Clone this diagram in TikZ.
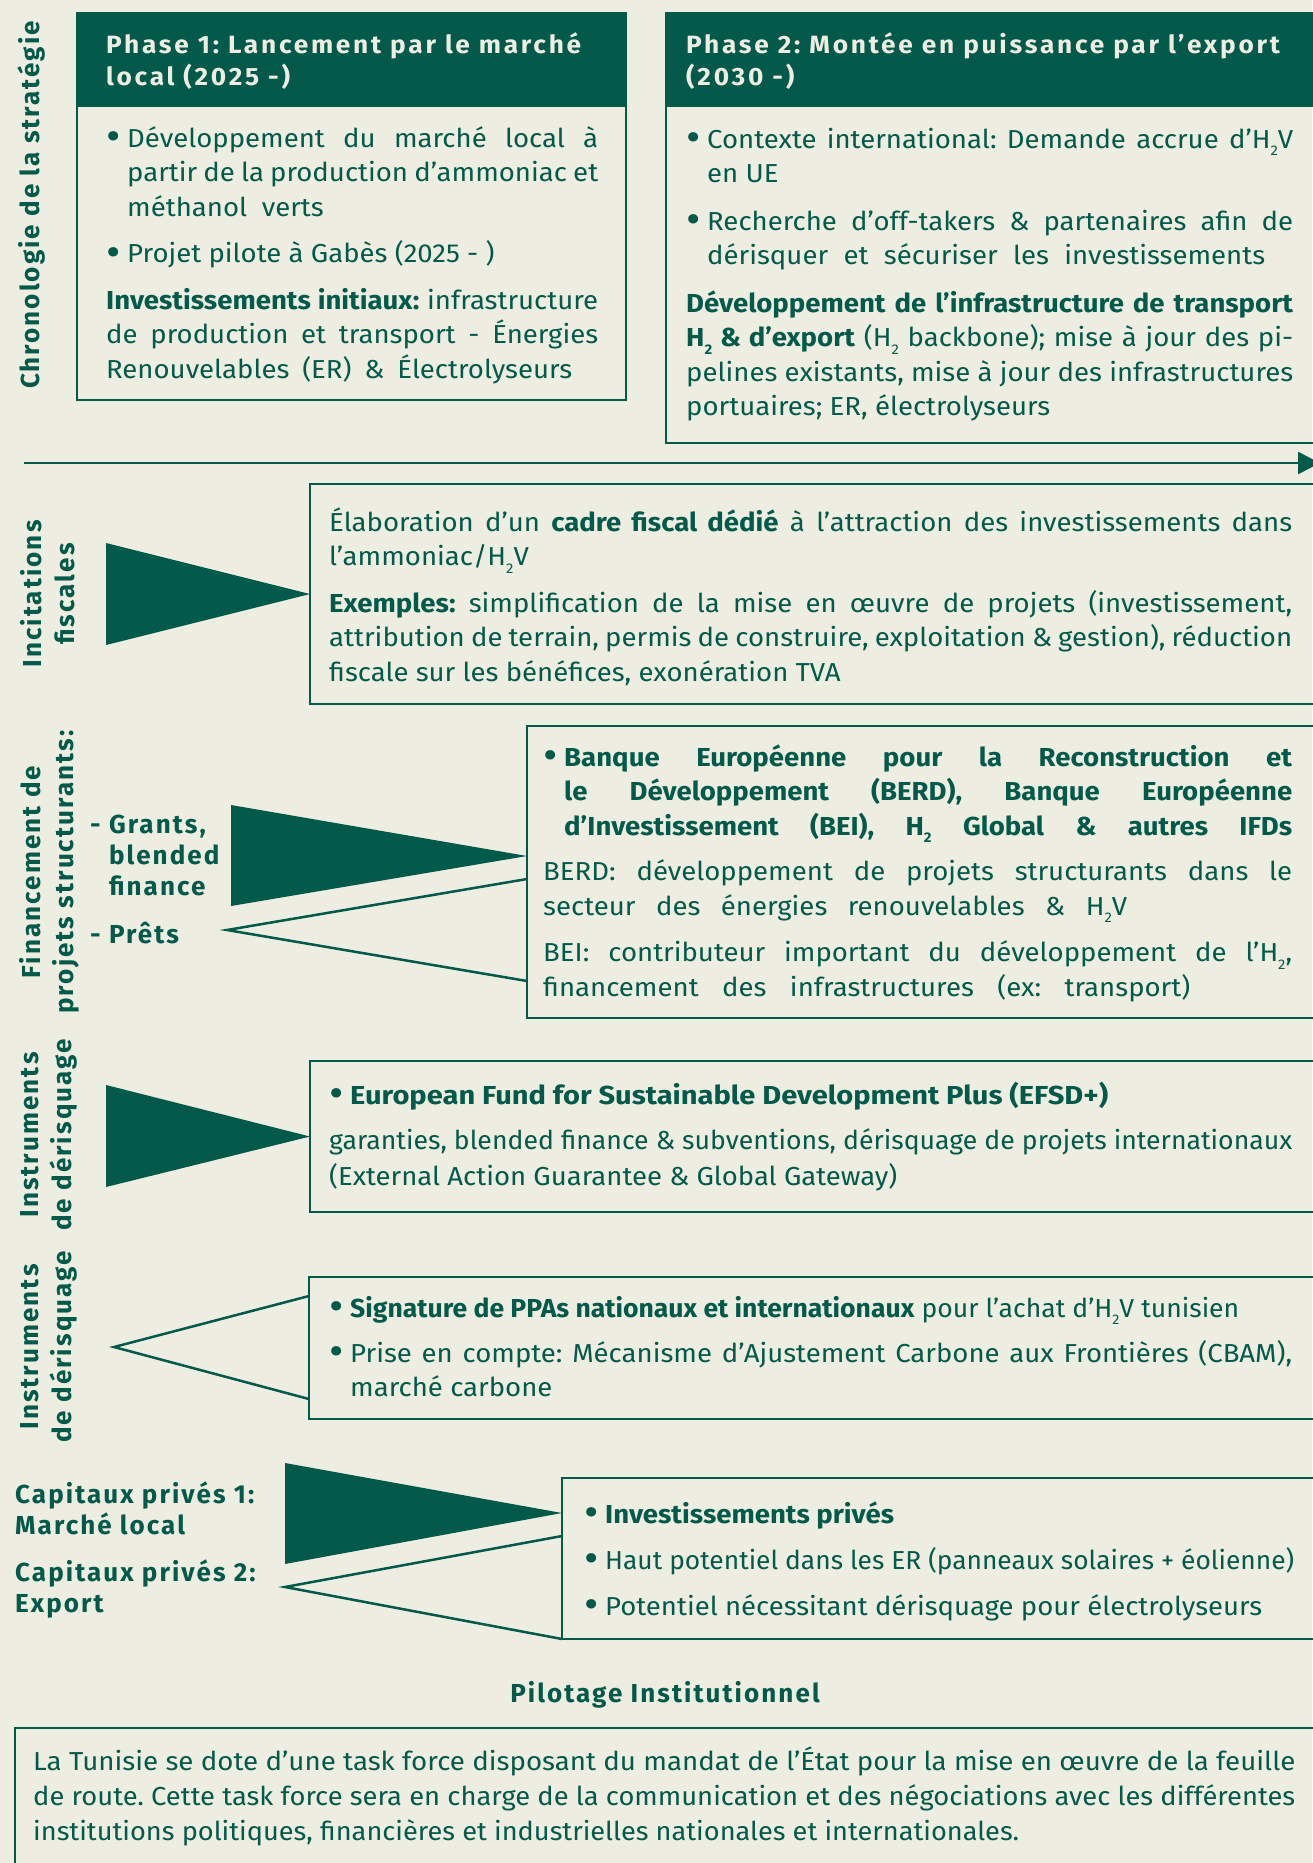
\documentclass[tikz,border=0pt]{standalone}
\usepackage{fontspec}
\usepackage{graphicx}
\setmainfont[FakeStretch=1.06]{Fira Sans}
\newfontfamily\labfont[LetterSpace=8]{Fira Sans}
\newfontfamily\hdfont[LetterSpace=11,FakeStretch=1.05]{Fira Sans}
\usetikzlibrary{arrows.meta}
\definecolor{bg}{HTML}{EDEDE1}
\definecolor{dg}{HTML}{03594A}
\newcommand\Hd{H\raisebox{-7.5pt}{\fontsize{14}{0}\selectfont 2}}
\newcommand\jl[2]{\makebox[#1][s]{#2}}
\newcommand\fw[2]{\resizebox{#1}{\height}{#2}}
\newcommand\bul{\makebox[21pt][l]{\raisebox{-3.5pt}{\scalebox{1.6}{•}}}}
\newcommand\tl[1]{\begin{tabular}[t]{@{}l@{}}#1\end{tabular}}
\tikzset{
 box/.style={draw=dg, line width=2.5pt, anchor=north west, inner sep=0pt, outer sep=0pt},
 hdbar/.style={fill=dg, anchor=north west, inner sep=0pt, outer sep=0pt, minimum height=94pt},
 txt/.style={anchor=base west, inner sep=0pt, text=dg, font=\fontsize{26}{34.5}\selectfont},
 lab/.style={text=dg, font=\labfont\bfseries\fontsize{26}{33}\selectfont, align=center, rotate=90, inner sep=0pt},
 blab/.style={anchor=base west, text=dg, font=\labfont\bfseries\fontsize{26}{31}\selectfont, inner sep=0pt},
 hd/.style={anchor=base west, text=bg, font=\hdfont\bfseries\fontsize{25}{32}\selectfont, inner sep=0pt},
 otri/.style={draw=dg, line width=2.5pt, line join=miter},
}
\begin{document}
\frenchspacing
\begin{tikzpicture}[x=1pt,y=-1pt]
\useasboundingbox (0,0) rectangle (1312,1863);
\fill[bg] (0,0) rectangle (1312,1863);

% ---------- Chronologie
\node[lab] (lch) at (32,205) {Chronologie de la stratégie};

% Phase 1
\node[box, minimum width=549pt, minimum height=387pt] (p1) at (77,13) {};
\node[hdbar, minimum width=549pt] (p1h) at (77,13) {};
\node[hd] (p1t) at (106,53) {\tl{Phase 1: Lancement par le marché\\local (2025 -)}};
\node[txt] (p1b) at (106,147) {\tl{\bul\jl{471pt}{Développement du marché local à}\\
\hspace*{21pt}\jl{471pt}{partir de la production d’ammoniac et}\\
\hspace*{21pt}méthanol\ \ verts\\[12pt]
\bul Projet pilote à Gabès (2025 - )\\[12pt]
\jl{492pt}{\textbf{Investissements initiaux:} infrastructure}\\
\jl{492pt}{de production et transport - Énergies}\\
\jl{466pt}{Renouvelables (ER) \& Électrolyseurs}}};

% Phase 2
\node[box, minimum width=660pt, minimum height=430pt] (p2) at (666,13) {};
\node[hdbar, minimum width=660pt] (p2h) at (666,13) {};
\node[hd] (p2t) at (686,53) {\tl{Phase 2: Montée en puissance par l’export\\(2030 -)}};
\node[txt] (p2b) at (686,148) {\tl{\bul\jl{586pt}{Contexte international: Demande accrue d’\Hd V}\\
\hspace*{21pt}en UE\\[13pt]
\bul\jl{586pt}{Recherche d’off-takers \& partenaires afin de}\\
\hspace*{21pt}\jl{558pt}{dérisquer et sécuriser les investissements}\\[13pt]
\jl{607pt}{\textbf{Développement de l’infrastructure de transport}}\\
\jl{607pt}{\textbf{\Hd\ \& d’export} (\Hd\ backbone); mise à jour des pi-}\\
\jl{607pt}{pelines existants, mise à jour des infrastructures}\\
portuaires; ER, électrolyseurs}};

% timeline arrow
\coordinate (a0) at (24,463);
\coordinate (a1) at (1320,463);
\draw[line width=2.5pt, dg, -{Triangle[length=22pt,width=22pt]}] (a0) -- (a1);

% ---------- Incitations fiscales
\node[lab] (l1) at (48,594) {Incitations\\fiscales};
\node[box, minimum width=1010pt, minimum height=220pt] (b1) at (310,484) {};
\node[txt] (b1t) at (329,531) {\tl{\jl{963pt}{Élaboration d’un \textbf{cadre fiscal dédié} à l’attraction des investissements dans}\\
l’ammoniac/\Hd V\\[12pt]
\jl{963pt}{\textbf{Exemples:} simplification de la mise en œuvre de projets (investissement,}\\
\jl{963pt}{attribution de terrain, permis de construire, exploitation \& gestion), réduction}\\
fiscale sur les bénéfices, exonération TVA}};
\coordinate (t1a) at (106,543);
\coordinate (t1b) at (106,645);
\fill[dg] (t1a) -- (b1.west) -- (t1b) -- cycle;

% ---------- Financement
\node[lab] (l2) at (49,872) {Financement de\\projets structurants:};
\node[blab] (g1) at (90,833) {\tl{- Grants,\\\hphantom{- }blended\\\hphantom{- }finance}};
\node[blab] (g2) at (90,943) {- Prêts};
\node[box, minimum width=793pt, minimum height=292pt] (b2) at (527,726) {};
\node[txt] (b2t) at (543,766) {\tl{\bul\jl{728pt}{\textbf{Banque Européenne pour la Reconstruction et}}\\
\hspace*{21pt}\jl{728pt}{\textbf{le Développement (BERD), Banque Européenne}}\\
\hspace*{21pt}\jl{728pt}{\textbf{d’Investissement (BEI), \Hd\ Global \& autres IFDs}}\\[11pt]
\jl{749pt}{BERD: développement de projets structurants dans le}\\
\jl{584pt}{secteur des énergies renouvelables \& \Hd V}\\[12pt]
\jl{749pt}{BEI: contributeur important du développement de l’\Hd,}\\
\jl{647pt}{financement des infrastructures (ex: transport)}}};
\coordinate (t2a) at (231,805);
\coordinate (t2b) at (231,906);
\coordinate (t2c) at (527,856);
\fill[dg] (t2a) -- (t2c) -- (t2b) -- cycle;
\coordinate (t2d) at (527,879);
\coordinate (t2e) at (227,930);
\coordinate (t2f) at (527,981);
\draw[otri] (t2d) -- (t2e) -- (t2f);

% ---------- Instruments 1
\node[lab] (l3) at (49,1135) {Instruments\\de dérisquage};
\node[box, minimum width=1010pt, minimum height=151pt] (b3) at (310,1061) {};
\node[txt] (b3t) at (329,1104) {\tl{\bul\fw{758pt}{\textbf{European Fund for Sustainable Development Plus (EFSD+)}}\\[10.5pt]
\fw{963pt}{garanties, blended finance \& subventions, dérisquage de projets internationaux}\\[2pt]
\fw{568pt}{(External Action Guarantee \& Global Gateway)}}};
\coordinate (t3a) at (106,1085);
\coordinate (t3b) at (106,1187);
\fill[dg] (t3a) -- (b3.west) -- (t3b) -- cycle;

% ---------- Instruments 2
\node[lab] (l4) at (49,1347) {Instruments\\de dérisquage};
\node[box, minimum width=1011pt, minimum height=142pt] (b4) at (309,1277) {};
\node[txt] (b4t) at (329,1317) {\tl{\bul\fw{889pt}{\textbf{Signature de PPAs nationaux et internationaux} pour l’achat d’\Hd V tunisien}\\[10.5pt]
\bul\jl{942pt}{Prise en compte: Mécanisme d’Ajustement Carbone aux Frontières (CBAM),}\\
\hspace*{21pt}marché carbone}};
\coordinate (t4a) at (309,1296);
\coordinate (t4b) at (114,1347);
\coordinate (t4c) at (309,1399);
\draw[otri] (t4a) -- (t4b) -- (t4c);

% ---------- Capitaux privés
\node[blab] (c1) at (15,1503) {\tl{Capitaux privés 1:\\Marché local}};
\node[blab] (c2) at (15,1581) {\tl{Capitaux privés 2:\\Export}};
\node[box, minimum width=760pt, minimum height=161pt] (b5) at (562,1478) {};
\node[txt] (b5t) at (584,1523) {\tl{\bul\textbf{Investissements privés}\\[11.5pt]
\bul\fw{689pt}{Haut potentiel dans les ER (panneaux solaires + éolienne)}\\[11.5pt]
\bul\fw{657pt}{Potentiel nécessitant dérisquage pour électrolyseurs}}};
\coordinate (t5a) at (285,1463);
\coordinate (t5b) at (285,1564);
\coordinate (t5c) at (562,1513);
\fill[dg] (t5a) -- (t5c) -- (t5b) -- cycle;
\coordinate (t5d) at (562,1536);
\coordinate (t5e) at (285,1587);
\coordinate (t5f) at (562,1639);
\draw[otri] (t5d) -- (t5e) -- (t5f);

% ---------- Pilotage
\node[blab, anchor=base] (pil) at (665,1702) {Pilotage Institutionnel};
\node[box, minimum width=1310pt, minimum height=200pt] (b6) at (15,1728) {};
\node[txt, font=\fontsize{26}{35}\selectfont] (b6t) at (33,1770) {\tl{\fw{1262pt}{La Tunisie se dote d’une task force disposant du mandat de l’État pour la mise en œuvre de la feuille}\\
\fw{1262pt}{de route. Cette task force sera en charge de la communication et des négociations avec les différentes}\\
\fw{986pt}{institutions politiques, financières et industrielles nationales et internationales.}}};
\end{tikzpicture}
\end{document}
